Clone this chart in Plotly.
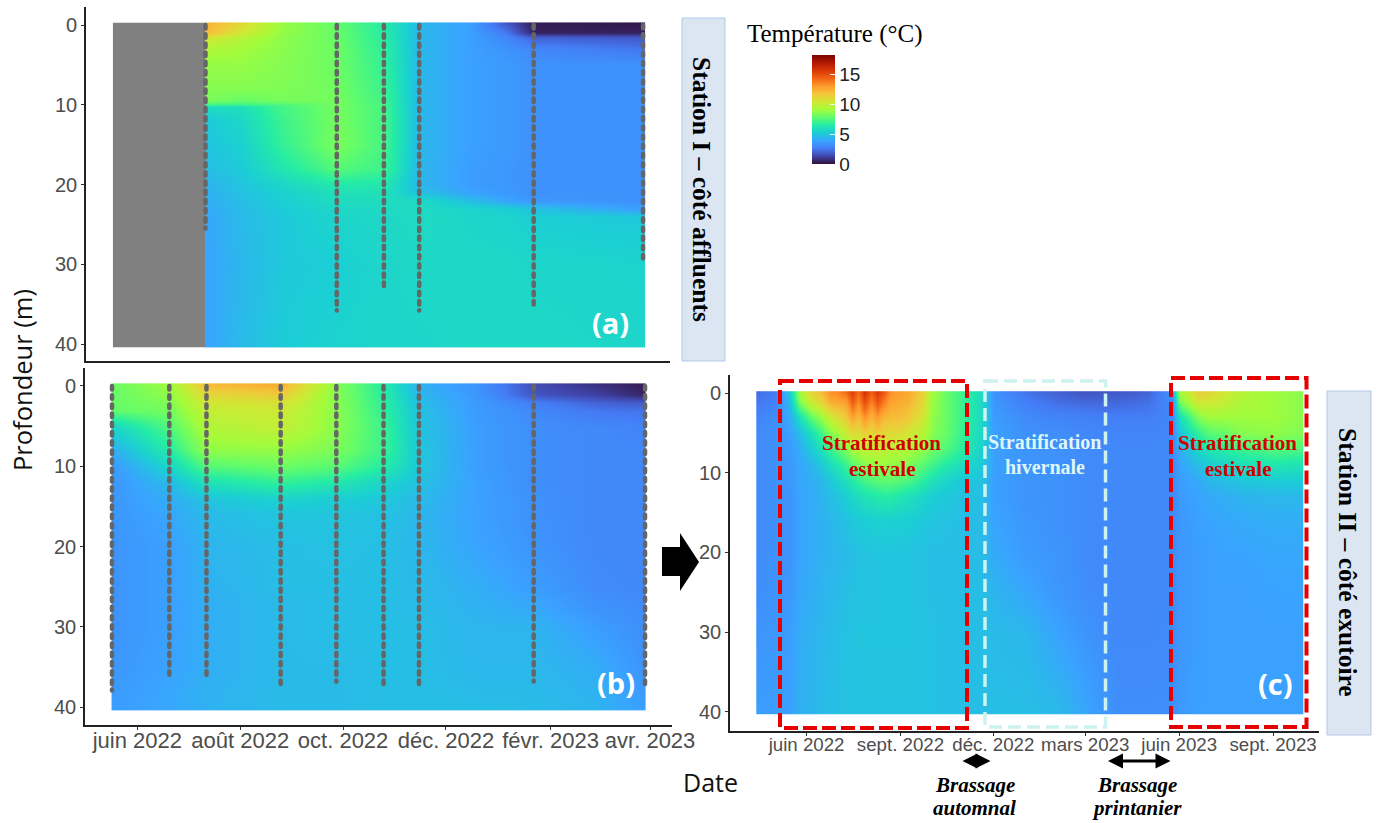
import pandas as pd
import plotly.graph_objects as go

W, H = 1378, 823
TEXT_GREY = "#4d4d4d"
TICK_FONT = "Liberation Sans"
SERIF = "Liberation Serif"
TEMP_COLORS = ["#30123b", "#4145ab", "#447cf6", "#39a4ff", "#1bcfd4", "#24eca6", "#61fc6c", "#a4fc3b",
               "#d1e834", "#f3c63a", "#fe9b2d", "#f36315", "#d93806", "#b11901", "#7a0402"]

# ---------- Panel (a) Station I ----------
a_dates = ["2022-07-11", "2022-08-01", "2022-08-25", "2022-09-27", "2022-10-25", "2022-11-15",
           "2022-12-15", "2023-01-05", "2023-01-22", "2023-03-29"]
a_depths = [-0.3, 0.9, 1.5, 3, 5, 8, 9.4, 9.9, 10.2, 12, 15, 18, 20, 21, 22, 23, 24, 30, 40.4]
a_profiles = [
    [12.3, 12.0, 10.5, 9.4, 8.8, 8.5, 8.3, 7.1, 5.8, 5.0, 4.9, 4.7, 4.4, 4.3, 4.2, 4.1, 4.0, 3.9, 3.9],
    [11.0, 10.4, 9.6, 9.1, 8.8, 8.5, 7.9, 7.1, 5.9, 5.6, 5.3, 5.1, 4.9, 4.8, 4.7, 4.6, 4.6, 4.5, 4.6],
    [8.9, 8.8, 8.7, 8.6, 8.5, 8.4, 8.2, 7.4, 7.2, 7.0, 6.8, 6.2, 5.5, 5.3, 5.2, 5.1, 5.0, 5.0, 5.1],
    [7.8, 7.9, 7.9, 8.0, 8.0, 8.1, 8.2, 8.2, 8.2, 8.2, 8.3, 7.6, 6.4, 6.0, 5.8, 5.6, 5.5, 5.2, 5.4],
    [6.5, 6.5, 6.6, 6.7, 6.8, 7.0, 7.1, 7.2, 7.2, 7.2, 7.2, 7.0, 6.3, 6.0, 5.8, 5.7, 5.6, 5.5, 5.5],
    [4.5, 4.5, 4.5, 4.5, 4.5, 4.5, 4.5, 4.5, 4.5, 4.5, 4.5, 4.5, 4.5, 4.8, 5.7, 5.7, 5.7, 5.6, 5.5],
    [3.8, 3.8, 3.8, 3.8, 3.8, 3.8, 3.8, 3.8, 3.8, 3.8, 3.8, 3.7, 3.7, 3.9, 4.7, 5.4, 5.5, 5.6, 5.6],
    [1.8, 2.6, 3.0, 3.4, 3.6, 3.6, 3.6, 3.6, 3.6, 3.6, 3.6, 3.5, 3.5, 3.6, 4.0, 5.2, 5.4, 5.6, 5.6],
    [0.3, 0.4, 2.0, 3.0, 3.3, 3.3, 3.3, 3.3, 3.3, 3.3, 3.3, 3.3, 3.3, 3.3, 3.5, 4.8, 5.2, 5.5, 5.6],
    [0.2, 0.4, 1.8, 2.5, 3.3, 3.3, 3.3, 3.3, 3.3, 3.3, 3.3, 3.3, 3.3, 3.3, 3.3, 3.7, 5.0, 5.4, 5.5],
]
a_samples = ["2022-07-11", "2022-09-27", "2022-10-25", "2022-11-15", "2023-01-22", "2023-03-28"]
a_bottoms = [25.5, 35.8, 33.3, 35.8, 35.4, 29.3]
a_nodata_span = ["2022-05-17", "2022-07-11"]

# ---------- Panel (b) Station II, same period ----------
b_dates = ["2022-05-17", "2022-06-20", "2022-07-12", "2022-08-25", "2022-09-27", "2022-10-25",
           "2022-11-15", "2022-12-20", "2023-01-22", "2023-02-28", "2023-03-29"]
b_depths = [-0.3, 1, 2, 3, 5, 8, 10, 12, 14, 16, 20, 25, 27, 30, 35, 38, 40.3]
b_profiles = [
    [8.0, 7.9, 7.9, 7.8, 5.5, 4.2, 3.6, 3.5, 3.5, 3.5, 3.4, 3.4, 3.4, 3.4, 3.5, 3.6, 3.7],
    [9.0, 8.7, 8.4, 8.2, 7.5, 6.5, 5.5, 4.6, 4.2, 4.0, 3.8, 3.8, 3.8, 3.8, 3.9, 4.0, 4.0],
    [12.0, 11.0, 10.4, 10.0, 9.5, 8.7, 7.5, 6.0, 4.9, 4.6, 4.4, 4.3, 4.2, 4.2, 4.2, 4.3, 4.3],
    [12.5, 11.5, 10.7, 10.3, 10.0, 8.8, 8.0, 6.8, 5.4, 4.9, 4.7, 4.7, 4.6, 4.6, 4.6, 4.6, 4.6],
    [8.5, 8.5, 8.6, 8.6, 8.6, 8.3, 7.6, 6.3, 5.2, 4.9, 4.8, 4.7, 4.7, 4.7, 4.6, 4.6, 4.6],
    [6.5, 6.6, 6.7, 6.8, 7.0, 7.0, 6.5, 5.5, 5.0, 4.8, 4.7, 4.7, 4.7, 4.7, 4.7, 4.7, 4.7],
    [4.3, 4.5, 4.7, 4.8, 4.9, 5.0, 5.0, 4.8, 4.6, 4.5, 4.5, 4.6, 4.6, 4.7, 4.7, 4.7, 4.7],
    [3.4, 3.5, 3.6, 3.6, 3.7, 3.7, 3.7, 3.8, 3.8, 3.8, 3.9, 4.2, 4.3, 4.4, 4.5, 4.6, 4.7],
    [1.5, 1.7, 2.7, 3.0, 3.2, 3.2, 3.2, 3.2, 3.3, 3.3, 3.4, 3.7, 4.0, 4.4, 4.5, 4.6, 4.6],
    [0.8, 1.2, 2.0, 2.5, 3.0, 3.0, 3.0, 3.0, 3.0, 3.0, 3.0, 3.1, 3.3, 3.7, 4.2, 4.3, 4.4],
    [0.3, 0.5, 1.8, 2.4, 2.9, 3.0, 3.0, 3.0, 3.0, 3.0, 3.0, 3.0, 3.1, 3.2, 3.4, 3.6, 3.8],
]
b_samples = ["2022-05-17", "2022-06-20", "2022-07-12", "2022-08-25", "2022-09-27", "2022-10-25",
             "2022-11-15", "2023-01-22", "2023-03-29"]
b_bottoms = [37.9, 36.0, 36.3, 37.5, 36.8, 37.4, 37.2, 36.8, 37.4]

# ---------- Panel (c) Station II, extended period ----------
c_dates = ["2022-04-13", "2022-05-01", "2022-05-15", "2022-05-25", "2022-06-05", "2022-06-15", "2022-06-24",
           "2022-07-01", "2022-07-10", "2022-07-16", "2022-07-22", "2022-07-28", "2022-08-03", "2022-08-09",
           "2022-08-15", "2022-08-22", "2022-09-01", "2022-09-08", "2022-09-15", "2022-09-23", "2022-10-01",
           "2022-10-15", "2022-11-01", "2022-11-20", "2022-12-01", "2023-01-01", "2023-02-01", "2023-03-01",
           "2023-04-01", "2023-05-01", "2023-05-25", "2023-06-01", "2023-06-20", "2023-07-01", "2023-07-15",
           "2023-08-01", "2023-09-01", "2023-09-30"]
c_depths = [-0.2, 1, 3, 5, 7, 9, 11, 13, 16, 20, 25, 30, 40.3]
c_profiles = [
    [2.3, 2.5, 2.9, 3.1, 3.1, 3.1, 3.1, 3.1, 3.1, 3.1, 3.2, 3.4, 3.7],
    [2.6, 2.8, 3.2, 3.3, 3.3, 3.3, 3.3, 3.3, 3.3, 3.3, 3.4, 3.5, 3.7],
    [5.0, 4.6, 4.1, 3.8, 3.6, 3.5, 3.5, 3.4, 3.4, 3.4, 3.5, 3.7, 3.8],
    [9.0, 8.4, 5.9, 4.6, 4.2, 4.0, 4.0, 3.9, 3.9, 3.9, 4.0, 4.2, 4.3],
    [11.0, 10.2, 7.6, 5.8, 5.0, 4.4, 4.2, 4.1, 4.1, 4.1, 4.2, 4.3, 4.4],
    [12.0, 11.2, 8.9, 7.1, 6.0, 5.0, 4.5, 4.4, 4.3, 4.3, 4.4, 4.5, 4.6],
    [13.2, 12.5, 10.2, 8.4, 7.0, 5.8, 5.0, 4.7, 4.5, 4.4, 4.5, 4.6, 4.7],
    [13.4, 12.6, 10.8, 9.0, 7.6, 6.2, 5.4, 4.9, 4.6, 4.5, 4.6, 4.7, 4.7],
    [14.2, 13.0, 11.6, 10.2, 8.4, 7.0, 5.9, 5.3, 4.8, 4.6, 4.7, 4.8, 4.8],
    [15.4, 14.6, 12.8, 10.9, 9.2, 7.6, 6.4, 5.6, 5.0, 4.7, 4.8, 4.8, 4.8],
    [14.0, 13.4, 12.0, 10.8, 9.4, 8.0, 6.8, 5.8, 5.1, 4.8, 4.8, 4.9, 4.8],
    [15.8, 15.0, 13.2, 11.4, 9.8, 8.4, 7.2, 6.1, 5.2, 4.8, 4.8, 4.9, 4.8],
    [14.4, 13.6, 12.2, 11.0, 9.8, 8.6, 7.4, 6.2, 5.2, 4.9, 4.8, 4.9, 4.8],
    [15.6, 14.8, 13.0, 11.4, 10.0, 8.8, 7.6, 6.4, 5.3, 4.9, 4.8, 4.9, 4.8],
    [14.6, 13.8, 12.2, 11.0, 9.8, 8.8, 7.7, 6.5, 5.3, 4.9, 4.9, 4.9, 4.8],
    [13.2, 12.8, 12.0, 10.9, 9.7, 8.7, 7.7, 6.5, 5.3, 4.9, 4.9, 4.9, 4.8],
    [12.8, 12.5, 11.9, 10.8, 9.5, 8.6, 7.5, 6.2, 5.2, 4.9, 4.9, 4.9, 4.8],
    [12.6, 12.3, 11.6, 10.5, 9.3, 8.4, 7.3, 6.0, 5.2, 4.9, 4.9, 4.9, 4.8],
    [12.0, 11.7, 11.1, 10.0, 9.0, 8.0, 7.0, 5.8, 5.1, 4.8, 4.8, 4.8, 4.8],
    [11.2, 11.0, 10.4, 9.6, 8.7, 7.6, 6.5, 5.5, 5.0, 4.8, 4.8, 4.8, 4.8],
    [9.2, 9.0, 8.8, 8.6, 8.1, 7.1, 6.0, 5.2, 4.9, 4.7, 4.7, 4.8, 4.8],
    [8.0, 8.0, 8.0, 7.9, 7.5, 6.4, 5.4, 5.0, 4.8, 4.7, 4.7, 4.7, 4.7],
    [7.0, 7.0, 7.0, 6.9, 6.6, 5.8, 5.0, 4.8, 4.7, 4.7, 4.7, 4.7, 4.7],
    [5.6, 5.6, 5.6, 5.5, 5.3, 5.0, 4.8, 4.7, 4.6, 4.6, 4.7, 4.7, 4.7],
    [3.4, 3.5, 3.7, 3.8, 3.8, 3.8, 3.8, 3.8, 3.9, 4.1, 4.4, 4.6, 4.7],
    [2.4, 2.7, 3.1, 3.3, 3.4, 3.4, 3.4, 3.4, 3.5, 3.6, 4.0, 4.5, 4.7],
    [2.0, 2.3, 2.9, 3.2, 3.3, 3.3, 3.3, 3.3, 3.3, 3.4, 3.5, 3.9, 4.6],
    [1.7, 2.1, 2.8, 3.0, 3.1, 3.1, 3.1, 3.1, 3.1, 3.1, 3.2, 3.4, 4.0],
    [1.8, 2.1, 2.7, 2.9, 3.0, 3.0, 3.0, 3.0, 3.0, 3.0, 3.0, 3.0, 3.2],
    [2.0, 2.3, 2.7, 2.9, 3.0, 3.0, 3.0, 3.0, 3.0, 3.0, 3.0, 3.0, 3.2],
    [3.4, 3.1, 3.0, 3.0, 3.0, 3.0, 3.0, 3.0, 3.0, 3.0, 3.0, 3.1, 3.2],
    [9.0, 8.2, 5.8, 4.8, 4.2, 3.9, 3.7, 3.6, 3.5, 3.5, 3.5, 3.5, 3.6],
    [11.4, 10.5, 8.4, 6.8, 5.6, 4.7, 4.1, 3.9, 3.8, 3.7, 3.7, 3.7, 3.8],
    [11.0, 10.4, 9.0, 7.6, 6.2, 5.1, 4.5, 4.1, 3.9, 3.8, 3.8, 3.8, 3.8],
    [10.4, 10.0, 9.0, 7.9, 6.5, 5.4, 4.7, 4.2, 4.0, 3.9, 3.8, 3.8, 3.8],
    [9.6, 9.4, 9.0, 8.5, 7.0, 5.8, 4.9, 4.4, 4.1, 3.9, 3.8, 3.8, 3.8],
    [9.0, 9.0, 9.0, 8.7, 7.5, 6.2, 5.1, 4.5, 4.2, 4.0, 3.9, 3.8, 3.8],
    [8.6, 8.6, 8.6, 8.4, 7.3, 6.0, 5.1, 4.5, 4.2, 4.0, 3.9, 3.8, 3.8],
]

# ---------- Axes labels ----------
depth_ticks = [0, 10, 20, 30, 40]
b_tick_dates = ["2022-06-01", "2022-08-01", "2022-10-01", "2022-12-01", "2023-02-01", "2023-04-01"]
b_tick_labels = ["juin 2022", "août 2022", "oct. 2022", "déc. 2022", "févr. 2023", "avr. 2023"]
c_tick_dates = ["2022-06-01", "2022-09-01", "2022-12-01", "2023-03-01", "2023-06-01", "2023-09-01"]
c_tick_labels = ["juin 2022", "sept. 2022", "déc. 2022", "mars 2023", "juin 2023", "sept. 2023"]
temp_ticks = [0, 5, 10, 15]


def fx(px):
    return px / W


def fy(py):
    return 1 - py / H


def heat_grid(dates, depths, profiles):
    # Repeat the outer columns and rows very close to the edge, so that the heatmap stops at the read extent.
    t = pd.to_datetime(dates)
    day = pd.Timedelta(hours=12)
    xs = [t[0]] + [t[0] + day] + list(t[1:-1]) + [t[-1] - day, t[-1]]
    ys = [depths[0], depths[0] + 0.05] + depths[1:-1] + [depths[-1] - 0.05, depths[-1]]
    cols = [profiles[0]] + profiles + [profiles[-1]]
    cols = [[c[0]] + list(c) + [c[-1]] for c in cols]
    return xs, ys, [list(r) for r in zip(*cols)]


fig = go.Figure()

common_heat = dict(colorscale=TEMP_COLORS, zmin=0, zmax=18.2, zsmooth="best", hoverinfo="skip")

ax_, ay_, az_ = heat_grid(a_dates, a_depths, a_profiles)
fig.add_trace(go.Heatmap(x=ax_, y=ay_, z=az_, xaxis="x", yaxis="y", showscale=True,
                         colorbar=dict(thickness=23, thicknessmode="pixels", len=109, lenmode="pixels",
                                       x=fx(812), xanchor="left", y=fy(164), yanchor="bottom",
                                       xpad=0, ypad=0, outlinewidth=0, tickmode="array", tickvals=temp_ticks,
                                       ticks="inside", ticklen=5, tickcolor="#e8f8f8", tickwidth=1,
                                       tickprefix="\u00a0\u00a0",
                                       tickfont=dict(family=TICK_FONT, size=19, color="#222222")),
                         **common_heat))
bx_, by_, bz_ = heat_grid(b_dates, b_depths, b_profiles)
fig.add_trace(go.Heatmap(x=bx_, y=by_, z=bz_, xaxis="x2", yaxis="y2", showscale=False, **common_heat))
cx_, cy_, cz_ = heat_grid(c_dates, c_depths, c_profiles)
fig.add_trace(go.Heatmap(x=cx_, y=cy_, z=cz_, xaxis="x3", yaxis="y3", showscale=False, **common_heat))

for dates, bottoms, xa, ya in [(a_samples, a_bottoms, "x", "y"), (b_samples, b_bottoms, "x2", "y2")]:
    for d, b in zip(dates, bottoms):
        fig.add_trace(go.Scatter(x=[d, d], y=[0, b], xaxis=xa, yaxis=ya, mode="lines",
                                 line=dict(color="#666666", width=4.5, dash="3.5px,5.7px"),
                                 showlegend=False, hoverinfo="skip"))


def xaxis(domain, rng, tickvals=None, ticktext=None, size=20, anchor="y", standoff=0):
    d = dict(domain=[fx(domain[0]), fx(domain[1])], range=rng, type="date", anchor=anchor,
             showgrid=False, zeroline=False, showline=True, linecolor="#222222", linewidth=1.6)
    if tickvals:
        d.update(tickmode="array", tickvals=tickvals, ticktext=ticktext, ticks="outside", ticklen=3,
                 tickcolor="#333333", tickangle=0, ticklabelstandoff=standoff,
                 tickfont=dict(family=TICK_FONT, size=size, color=TEXT_GREY))
    else:
        d.update(showticklabels=False, ticks="")
    return d


def yaxis(domain, rng, anchor):
    return dict(domain=[fy(domain[1]), fy(domain[0])], range=rng, anchor=anchor, showgrid=False, zeroline=False,
                showline=True, linecolor="#222222", linewidth=1.6, tickmode="array", tickvals=depth_ticks,
                ticks="outside", ticklen=3, tickcolor="#333333",
                tickfont=dict(family=TICK_FONT, size=20, color=TEXT_GREY))


shapes = [
    dict(type="rect", xref="x", yref="y", x0=a_nodata_span[0], x1=a_nodata_span[1], y0=-0.3, y1=40.4,
         fillcolor="#808080", line_width=0, layer="below"),
]


def box(x0, y0, x1, y1, color, width, dash, fill=None):
    s = dict(type="rect", xref="paper", yref="paper", x0=fx(x0), x1=fx(x1), y0=fy(y0), y1=fy(y1),
             line=dict(color=color, width=width, dash=dash))
    if fill:
        s["fillcolor"] = fill
    return s


shapes += [
    box(682, 18, 725, 361, "#b4c7e7", 1, "solid", "#dce6f2"),
    box(1327, 391, 1371, 735, "#b4c7e7", 1, "solid", "#dce6f2"),
    box(780, 381, 967, 728, "#e60000", 4, "14px,5px"),
    box(1171, 378, 1306.5, 727, "#e60000", 4, "14px,5px"),
    box(985, 381, 1105.5, 727, "#cdf2ef", 3.5, "13px,6px"),
    dict(type="path", xref="paper", yref="paper", fillcolor="black", line_width=0,
         path=f"M {fx(662)} {fy(547)} L {fx(680)} {fy(547)} L {fx(680)} {fy(533)} L {fx(699)} {fy(562)} "
              f"L {fx(680)} {fy(591)} L {fx(680)} {fy(576)} L {fx(662)} {fy(576)} Z"),
]


def note(text, px, py, family, size, color="black", bold=False, italic=False, angle=0):
    if bold:
        text = f"<b>{text}</b>"
    if italic:
        text = f"<i>{text}</i>"
    return dict(text=text, x=fx(px), y=fy(py), xref="paper", yref="paper", xanchor="center", yanchor="middle",
                showarrow=False, textangle=angle, font=dict(family=family, size=size, color=color))


def double_arrow(x0, x1, py):
    return dict(text="", x=fx(x1), y=fy(py), xref="paper", yref="paper", ax=x0 - x1, ay=0, axref="pixel", ayref="pixel",
                showarrow=True, arrowhead=2, arrowside="end+start", arrowsize=1, arrowwidth=3, arrowcolor="black")


annotations = [
    note("Température (°C)", 835, 34, SERIF, 25),
    note("Profondeur (m)", 22, 380, "Open Sans", 25.5, color="#111111", angle=-90),
    note("Date", 710, 782, "Open Sans", 25, color="#111111"),
    note("Station I – côté affluents", 702, 189, SERIF, 25.5, bold=True, angle=90),
    note("Station II – côté exutoire", 1348, 562, SERIF, 25.5, bold=True, angle=90),
    note("(a)", 610, 322, "Open Sans", 29, color="white", bold=True),
    note("(b)", 616, 682, "Open Sans", 29, color="white", bold=True),
    note("(c)", 1275, 683, "Open Sans", 29, color="white", bold=True),
    note("Stratification", 881.5, 443, SERIF, 21, color="#d00000", bold=True),
    note("estivale", 882, 469, SERIF, 21, color="#d00000", bold=True),
    note("Stratification", 1237.5, 443, SERIF, 21, color="#d00000", bold=True),
    note("estivale", 1237.5, 469, SERIF, 21, color="#d00000", bold=True),
    note("Stratification", 1044.5, 442, SERIF, 20, color="#dff6f6", bold=True),
    note("hivernale", 1044.5, 467, SERIF, 20, color="#dff6f6", bold=True),
    note("Brassage", 974.5, 785, SERIF, 21, bold=True, italic=True),
    note("automnal", 974.5, 808, SERIF, 21, bold=True, italic=True),
    note("Brassage", 1137, 785, SERIF, 21, bold=True, italic=True),
    note("printanier", 1137, 808, SERIF, 21, bold=True, italic=True),
    double_arrow(961, 990.5, 761),
    double_arrow(1106.5, 1170.5, 761),
]

fig.update_layout(
    width=W, height=H, margin=dict(l=0, r=0, t=0, b=0, autoexpand=False), paper_bgcolor="white", plot_bgcolor="white",
    showlegend=False, shapes=shapes, annotations=annotations,
    xaxis=xaxis((86, 670), ["2022-05-01", "2023-04-13"], anchor="y"),
    yaxis=yaxis((7, 361), [42.13, -2.26], "x"),
    xaxis2=xaxis((85, 672), ["2022-05-01", "2023-04-14"], b_tick_dates, b_tick_labels, 22, "y2", standoff=-8),
    yaxis2=yaxis((368, 725), [42.2, -2.24], "x2"),
    xaxis3=xaxis((730, 1319), ["2022-03-18", "2023-10-16"], c_tick_dates, c_tick_labels, 18.7, "y3", standoff=-7),
    yaxis3=yaxis((375, 730.7), [42.35, -2.26], "x3"),
)

fig.write_html(
    "out.html",
    config={"displayModeBar": False},
    post_script="document.body.style.margin='0';"
                "document.querySelectorAll('.scatterlayer .js-line').forEach(function(p){p.style.strokeLinecap='round';});",
)
